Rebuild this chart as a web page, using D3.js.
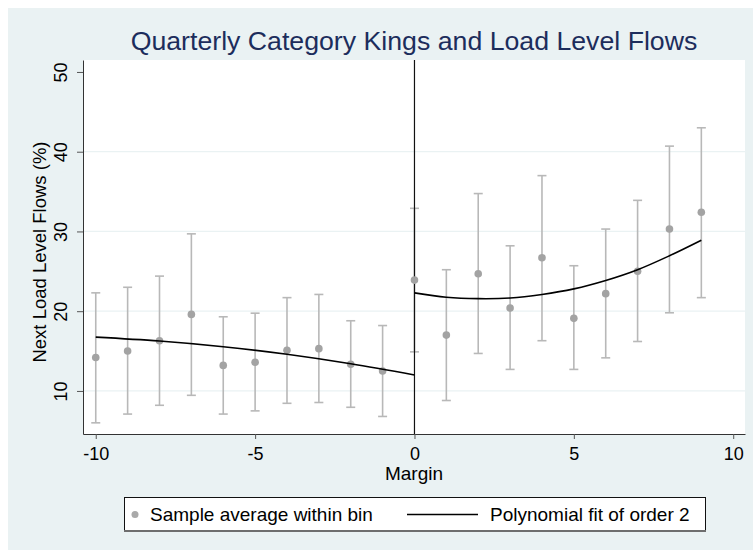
<!DOCTYPE html>
<html>
<head>
<meta charset="utf-8">
<script src="https://cdn.jsdelivr.net/npm/d3@7"></script>
<style>
  body { margin: 0; background: #fff; }
  svg { display: block; }
  text { font-family: "Liberation Sans", Arial, sans-serif; }
</style>
</head>
<body>
<div id="chart"></div>
<script>
// bins of the running variable
const bins = [-10, -9, -8, -7, -6, -5, -4, -3, -2, -1, 0, 1, 2, 3, 4, 5, 6, 7, 8, 9];
// sample average within each bin (%)
const binMeans = [14.2, 15.0, 16.3, 19.6, 13.2, 13.6, 15.1, 15.3, 13.35, 12.5,
                  23.9, 17.0, 24.7, 20.4, 26.7, 19.1, 22.2, 25.0, 30.3, 32.4];
// confidence bands
const ciLow = [6.0, 7.1, 8.2, 9.45, 7.1, 7.5, 8.45, 8.55, 7.95, 6.8,
               14.9, 8.8, 14.7, 12.7, 16.3, 12.7, 14.15, 16.2, 19.8, 21.7];
const ciHigh = [22.3, 23.0, 24.4, 29.7, 19.3, 19.75, 21.7, 22.1, 18.8, 18.2,
                32.9, 25.2, 34.75, 28.2, 37.0, 25.7, 30.3, 33.9, 40.7, 43.0];
// polynomial fit
const fitLeftX = [-10, -8, -6, -4, -2, 0];
const fitLeftY = [16.75, 16.26, 15.55, 14.6, 13.41, 12.0];
const fitRightX = [0, 1, 2, 3, 4, 5, 6, 7, 8, 9];
const fitRightY = [22.3, 21.75, 21.57, 21.65, 22.1, 22.8, 23.85, 25.2, 26.95, 28.9];

const xTicks = [-10, -5, 0, 5, 10];
const yTicks = [10, 20, 30, 40, 50];
const gridTicks = [10, 20, 30, 40];

const title = "Quarterly Category Kings and Load Level Flows";
const xLabel = "Margin";
const yLabel = "Next Load Level Flows (%)";
const legendLabels = ["Sample average within bin", "Polynomial fit of order 2"];

const width = 753, height = 550;
const plot = { left: 83, right: 745, top: 60, bottom: 434 };

const svg = d3.select("#chart").append("svg")
  .attr("width", width)
  .attr("height", height);

// graph region
svg.append("rect")
  .attr("x", 8).attr("y", 8)
  .attr("width", width - 8).attr("height", height - 8)
  .attr("fill", "#eaf2f3");

// plot region
svg.append("rect")
  .attr("x", plot.left).attr("y", plot.top)
  .attr("width", plot.right - plot.left)
  .attr("height", plot.bottom - plot.top)
  .attr("fill", "#fff");

const x = d3.scaleLinear().domain([-10.4, 10.37]).range([plot.left, plot.right]);
const y = d3.scaleLinear().domain([4.6, 51.5]).range([plot.bottom, plot.top]);

// gridlines
svg.append("g")
  .selectAll("line")
  .data(gridTicks)
  .join("line")
  .attr("x1", plot.left).attr("x2", plot.right)
  .attr("y1", d => y(d)).attr("y2", d => y(d))
  .attr("stroke", "#eaf2f3")
  .attr("stroke-width", 1.2);

// x axis
svg.append("g")
  .attr("transform", `translate(0,${plot.bottom})`)
  .call(d3.axisBottom(x).tickValues(xTicks).tickSize(5).tickSizeOuter(0).tickFormat(d => String(d)))
  .call(g => g.select(".domain").attr("stroke", "#333"))
  .call(g => g.selectAll(".tick line").attr("stroke", "#555"))
  .call(g => g.selectAll(".tick text")
    .attr("y", 26).attr("dy", null)
    .attr("fill", "#000")
    .attr("font-size", 18)
    .attr("font-family", "Liberation Sans, Arial, sans-serif"));

// y axis, labels turned vertical
svg.append("g")
  .attr("transform", `translate(${plot.left},0)`)
  .call(d3.axisLeft(y).tickValues(yTicks).tickSize(6).tickSizeOuter(0))
  .call(g => g.select(".domain").attr("stroke", "#333"))
  .call(g => g.selectAll(".tick line").attr("stroke", "#555"))
  .call(g => g.selectAll(".tick text")
    .attr("transform", "rotate(-90)")
    .attr("x", 0).attr("y", -16).attr("dy", null)
    .attr("text-anchor", "middle")
    .attr("fill", "#000")
    .attr("font-size", 18)
    .attr("font-family", "Liberation Sans, Arial, sans-serif"));

const pts = bins.map((b, i) => ({ b, m: binMeans[i], lo: ciLow[i], hi: ciHigh[i] }));

// error bars
const eb = svg.append("g")
  .attr("stroke", "#b8b8b8")
  .attr("stroke-width", 1.6)
  .selectAll("g")
  .data(pts)
  .join("g");
eb.append("line")
  .attr("x1", d => x(d.b)).attr("x2", d => x(d.b))
  .attr("y1", d => y(d.lo)).attr("y2", d => y(d.hi));
eb.append("line")
  .attr("x1", d => x(d.b) - 4.5).attr("x2", d => x(d.b) + 4.5)
  .attr("y1", d => y(d.lo)).attr("y2", d => y(d.lo));
eb.append("line")
  .attr("x1", d => x(d.b) - 4.5).attr("x2", d => x(d.b) + 4.5)
  .attr("y1", d => y(d.hi)).attr("y2", d => y(d.hi));

// cutoff line
svg.append("line")
  .attr("x1", x(0)).attr("x2", x(0))
  .attr("y1", plot.top).attr("y2", plot.bottom)
  .attr("stroke", "#111")
  .attr("stroke-width", 1.2);

// bin averages
svg.append("g")
  .attr("fill", "#a3a3a3")
  .selectAll("circle")
  .data(pts)
  .join("circle")
  .attr("cx", d => x(d.b))
  .attr("cy", d => y(d.m))
  .attr("r", 3.8);

// fitted curves
const fitLine = d3.line()
  .x(d => x(d[0]))
  .y(d => y(d[1]))
  .curve(d3.curveCatmullRom);

svg.append("path")
  .datum(d3.zip(fitLeftX, fitLeftY))
  .attr("d", fitLine)
  .attr("fill", "none")
  .attr("stroke", "#000")
  .attr("stroke-width", 1.6);

svg.append("path")
  .datum(d3.zip(fitRightX, fitRightY))
  .attr("d", fitLine)
  .attr("fill", "none")
  .attr("stroke", "#000")
  .attr("stroke-width", 1.6);

// titles
svg.append("text")
  .attr("x", (plot.left + plot.right) / 2)
  .attr("y", 50)
  .attr("text-anchor", "middle")
  .attr("fill", "#1c2d5c")
  .attr("font-size", 26.7)
  .text(title);

svg.append("text")
  .attr("x", (plot.left + plot.right) / 2)
  .attr("y", 480)
  .attr("text-anchor", "middle")
  .attr("font-size", 19)
  .text(xLabel);

svg.append("text")
  .attr("transform", `translate(46,${(plot.top + plot.bottom) / 2 + 5}) rotate(-90)`)
  .attr("text-anchor", "middle")
  .attr("font-size", 18.5)
  .text(yLabel);

// legend
const legend = svg.append("g");
legend.append("rect")
  .attr("x", 124.5).attr("y", 497.5)
  .attr("width", 581).attr("height", 33)
  .attr("fill", "#fff")
  .attr("stroke", "#111")
  .attr("stroke-width", 1);
legend.append("line")
  .attr("x1", 124).attr("x2", 706)
  .attr("y1", 531).attr("y2", 531)
  .attr("stroke", "#6e6e6e")
  .attr("stroke-width", 2);
legend.append("circle")
  .attr("cx", 135).attr("cy", 514.5).attr("r", 3.5)
  .attr("fill", "#a9a9a9");
legend.append("text")
  .attr("x", 150).attr("y", 521)
  .attr("font-size", 19)
  .text(legendLabels[0]);
legend.append("line")
  .attr("x1", 407).attr("x2", 478)
  .attr("y1", 514.5).attr("y2", 514.5)
  .attr("stroke", "#000")
  .attr("stroke-width", 1.5);
legend.append("text")
  .attr("x", 490).attr("y", 521)
  .attr("font-size", 19)
  .text(legendLabels[1]);
</script>
</body>
</html>
